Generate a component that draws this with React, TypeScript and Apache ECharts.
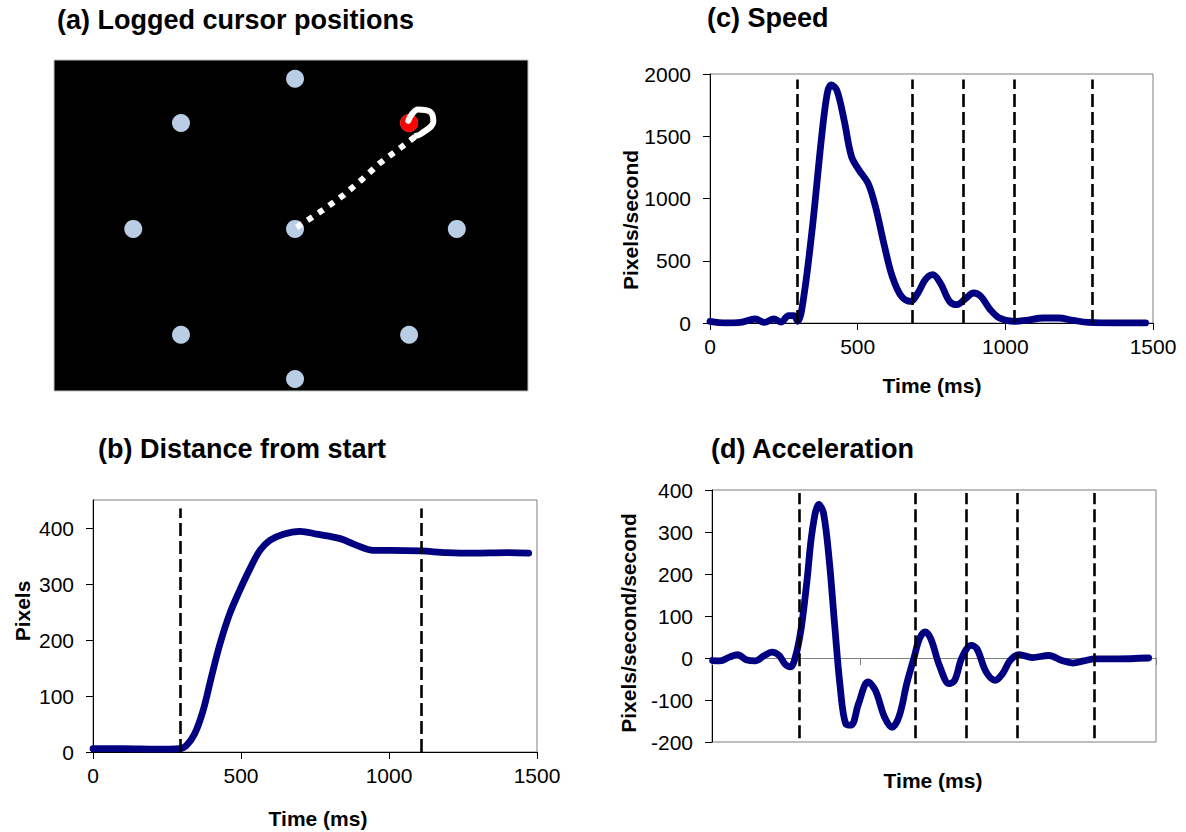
import React, { useEffect, useRef } from "react";
import * as echarts from "echarts";

const FONT = "Arial, 'Liberation Sans', Helvetica, sans-serif";
const NAVY = "#000080";

// (a) target layout (arbitrary screen units, centre = start target)
const targetPositions = [
  [0, 0], [0, 200], [141, 141], [200, 0], [141, -141],
  [0, -200], [-141, -141], [-200, 0], [-141, 141],
];
const activeTarget = [[141, 141]];
const cursorDotted = [
  [2, 2], [33, 24], [60, 45], [83, 66], [104, 87], [129, 107], [150, 124],
];
const cursorHook = [
  [150, 124], [155, 126], [171, 143], [167, 156], [152, 159], [144, 152], [140, 144],
];

// (b) distance from start
const distanceTime = [0, 101, 214, 293, 316, 344, 372, 400, 429, 462, 496, 530, 564, 598, 643, 699, 756, 835, 891, 947, 1004, 1105, 1195, 1286, 1398, 1472];
const distanceValue = [6, 6, 5, 6, 12, 33, 74, 134, 193, 247, 289, 327, 360, 378, 389, 394, 389, 381, 369, 360, 360, 359, 356, 355, 356, 355];
const distancePhases = [295, 1108];

// (c) speed
const speedTime = [0, 53, 103, 153, 184, 216, 241, 266, 284, 297, 316, 347, 378, 397, 410, 429, 454, 479, 504, 535, 560, 591, 617, 648, 679, 704, 729, 754, 780, 811, 836, 867, 892, 917, 949, 980, 1030, 1068, 1130, 1180, 1230, 1281, 1381, 1475];
const speedValue = [13, 0, 5, 32, 5, 32, 8, 59, 59, 13, 187, 775, 1497, 1845, 1912, 1872, 1631, 1337, 1230, 1123, 936, 615, 374, 214, 174, 241, 348, 388, 321, 174, 147, 200, 241, 214, 107, 40, 13, 21, 40, 40, 21, 5, 0, 0];

// (d) acceleration
const accelTime = [2, 27, 59, 86, 115, 146, 177, 202, 227, 246, 265, 283, 302, 321, 339, 361, 377, 396, 414, 433, 452, 470, 495, 527, 552, 583, 608, 633, 658, 683, 701, 720, 739, 770, 801, 820, 845, 876, 895, 926, 957, 982, 1007, 1038, 1082, 1138, 1182, 1219, 1257, 1294, 1369, 1475];
const accelValue = [-6, -7, 2, 8, -4, -7, 6, 14, 6, -14, -21, 6, 74, 185, 304, 366, 344, 233, 82, -69, -157, -160, -109, -57, -77, -141, -165, -137, -61, 2, 46, 62, 46, -21, -61, -53, 2, 30, 22, -33, -53, -37, -6, 8, 1, 6, -6, -12, -7, -2, -2, 0];

const movementPhases = [295, 686, 859, 1030, 1293];

const distanceTicks = [0, 100, 200, 300, 400];

const zip = (xs: number[], ys: number[]) => xs.map((x, i) => [x, ys[i]]);

const phaseLines = (times: number[], y0: number, y1: number) =>
  times.map((t) => [{ coord: [t, y0] }, { coord: [t, y1] }]);

const dashStyle = { color: "#000", width: 2.6, type: [13, 5] as any };

const markLineFor = (times: number[], y0: number, y1: number) => ({
  silent: true,
  symbol: "none",
  label: { show: false },
  lineStyle: dashStyle,
  data: phaseLines(times, y0, y1),
  z: 10,
});

const tickLabel = {
  fontFamily: FONT,
  fontSize: 21,
  color: "#000",
  formatter: (v: number) => String(v),
};

const timeAxis = (gridIndex: number, extra: any = {}) => ({
  type: "value",
  gridIndex,
  min: 0,
  max: 1500,
  interval: 500,
  splitLine: { show: false },
  axisLine: { lineStyle: { color: "#000", width: 1 } },
  axisTick: { inside: false, length: 7, lineStyle: { color: "#000" } },
  axisLabel: { ...tickLabel, margin: 13 },
  ...extra,
});

const valueAxis = (gridIndex: number, min: number, max: number, interval: number, extra: any = {}) => ({
  type: "value",
  gridIndex,
  min,
  max,
  interval,
  splitLine: { show: false },
  axisLine: { show: true, lineStyle: { color: "#000", width: 1 } },
  axisTick: { show: true, inside: false, length: 7, lineStyle: { color: "#000" } },
  axisLabel: { ...tickLabel, margin: 19 },
  ...extra,
});

const plotGrid = (left: number, top: number, width: number, height: number) => ({
  left,
  top,
  width,
  height,
  show: true,
  borderColor: "#7f7f7f",
  borderWidth: 1,
  backgroundColor: "transparent",
  containLabel: false,
});

const title = (text: string, x: number, y: number) => ({
  type: "text",
  x,
  y,
  style: {
    text,
    fontFamily: FONT,
    fontSize: 27,
    fontWeight: "bold",
    fill: "#000",
    align: "left",
    verticalAlign: "middle",
  },
});

const axisName = (text: string, x: number, y: number, vertical = false) => ({
  type: "text",
  x,
  y,
  rotation: vertical ? Math.PI / 2 : 0,
  style: {
    text,
    fontFamily: FONT,
    fontSize: 21,
    fontWeight: "bold",
    fill: "#000",
    align: "center",
    verticalAlign: "middle",
  },
});

const curve = (xi: number, data: number[][], marks: any) => ({
  type: "line",
  xAxisIndex: xi,
  yAxisIndex: xi,
  data,
  smooth: 0.35,
  symbol: "none",
  lineStyle: { color: NAVY, width: 6.8, cap: "round", join: "round" },
  markLine: marks,
  z: 3,
});

export default function App() {
  const ref = useRef<HTMLDivElement>(null);

  useEffect(() => {
    if (!ref.current) return;
    const chart = echarts.init(ref.current, undefined, { renderer: "svg" });
    const option: any = {
      animation: false,
      backgroundColor: "#fff",
      grid: [
        { left: 54, top: 60, width: 474, height: 331, show: true, backgroundColor: "#000", borderColor: "#c0c0c0", borderWidth: 1 },
        plotGrid(93, 500, 444, 252),
        plotGrid(710, 74, 443, 249),
        plotGrid(712, 490, 444, 252),
      ],
      xAxis: [
        { type: "value", gridIndex: 0, min: -298, max: 288, show: false },
        timeAxis(1),
        timeAxis(2),
        timeAxis(3, {
          axisLine: { onZero: true, lineStyle: { color: "#808080", width: 1 } },
          axisTick: { inside: false, length: 7, lineStyle: { color: "#808080" } },
          axisLabel: { show: false },
        }),
      ],
      yAxis: [
        { type: "value", gridIndex: 0, min: -216, max: 225, show: false },
        valueAxis(1, 0, 450, 100, {
          axisTick: { show: true, inside: false, length: 7, lineStyle: { color: "#000" }, customValues: distanceTicks },
          axisLabel: { ...tickLabel, margin: 19, customValues: distanceTicks },
        }),
        valueAxis(2, 0, 2000, 500),
        valueAxis(3, -200, 400, 100),
      ],
      graphic: [
        title("(a) Logged cursor positions", 57, 20),
        title("(b) Distance from start", 98, 449),
        title("(c) Speed", 707, 18),
        title("(d) Acceleration", 711, 449),
        axisName("Pixels", 22, 611, true),
        axisName("Time (ms)", 318, 818),
        axisName("Pixels/second", 630, 220, true),
        axisName("Time (ms)", 932, 385),
        axisName("Pixels/second/second", 628, 623, true),
        axisName("Time (ms)", 933, 780),
      ],
      series: [
        {
          type: "scatter",
          xAxisIndex: 0,
          yAxisIndex: 0,
          data: targetPositions,
          symbol: "circle",
          symbolSize: 18,
          itemStyle: { color: "#b9cde5", opacity: 1 },
          z: 2,
        },
        {
          type: "scatter",
          xAxisIndex: 0,
          yAxisIndex: 0,
          data: activeTarget,
          symbol: "circle",
          symbolSize: 18,
          itemStyle: { color: "#ff0000", opacity: 1 },
          z: 3,
        },
        {
          type: "line",
          xAxisIndex: 0,
          yAxisIndex: 0,
          data: cursorDotted,
          symbol: "none",
          lineStyle: { color: "#fff", width: 6, type: [6, 7], cap: "butt" },
          z: 4,
        },
        {
          type: "line",
          xAxisIndex: 0,
          yAxisIndex: 0,
          data: cursorHook,
          smooth: 0.4,
          symbol: "none",
          lineStyle: { color: "#fff", width: 6, cap: "round", join: "round" },
          z: 4,
        },
        curve(1, zip(distanceTime, distanceValue), markLineFor(distancePhases, 0, 435)),
        curve(2, zip(speedTime, speedValue), markLineFor(movementPhases, 0, 1955)),
        curve(3, zip(accelTime, accelValue), markLineFor(movementPhases, -191, 393)),
      ],
    };
    chart.setOption(option);
    return () => chart.dispose();
  }, []);

  return (
    <div
      ref={ref}
      style={{ position: "fixed", left: 0, top: 0, width: 1186, height: 832, background: "#fff" }}
    />
  );
}
